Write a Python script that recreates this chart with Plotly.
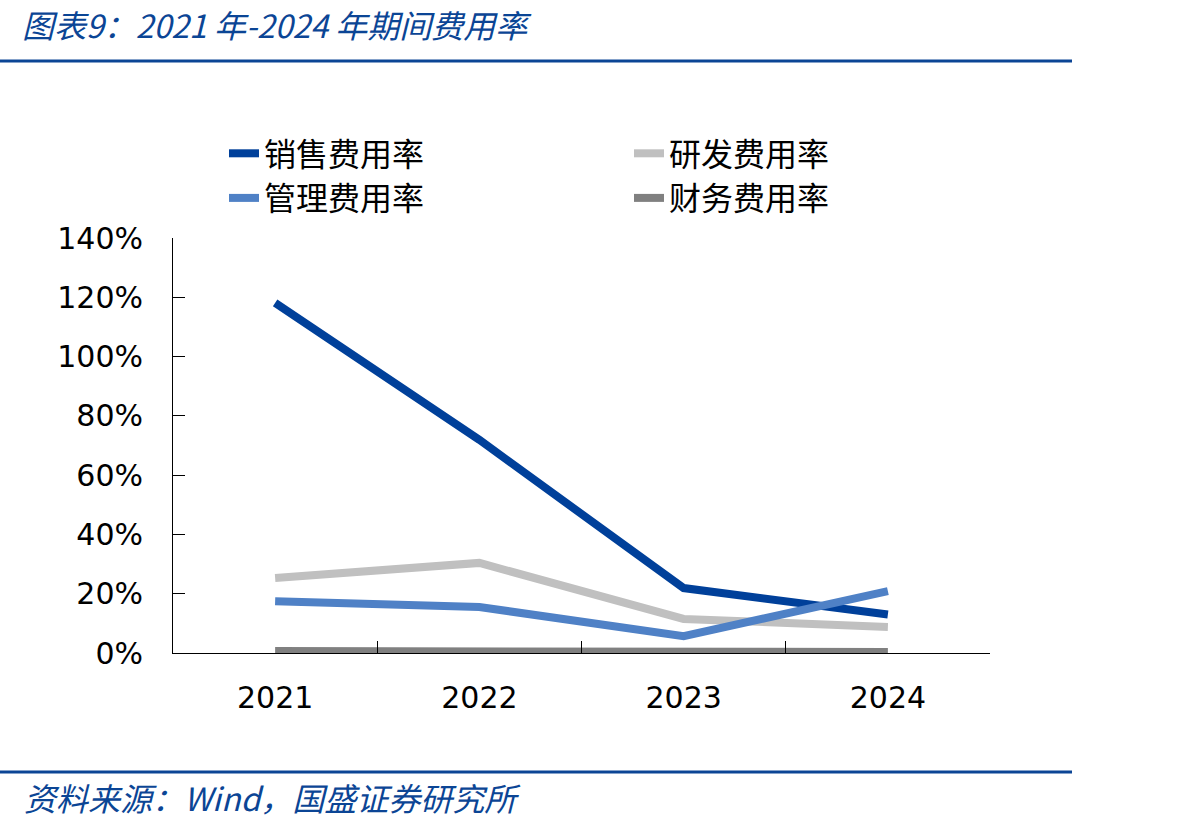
import plotly.graph_objects as go

years = ["2021", "2022", "2023", "2024"]
sales = [1.181, 0.719, 0.219, 0.130]
rnd = [0.253, 0.304, 0.115, 0.088]
admin = [0.175, 0.155, 0.057, 0.209]
fin = [0.007, 0.005, 0.002, 0.003]

names = ["销售费用率", "研发费用率", "管理费用率", "财务费用率"]
colors = ["#00409A", "#C0C0C0", "#4F81C6", "#808080"]
series = [sales, rnd, admin, fin]

W, H = 1192, 829
L, R, T, B = 173, 990, 238, 653
PW, PH = R - L, B - T


def px_x(x):
    return (x - L) / PW


def px_y(y):
    return (B - y) / PH


fig = go.Figure()
for i in range(4):
    fig.add_trace(go.Scatter(
        x=years, y=series[i], name=names[i], mode="lines",
        line=dict(color=colors[i], width=8),
    ))

tickfont = dict(family="DejaVu Sans, Verdana, sans-serif", size=30, color="#000000")
cjk = "Noto Sans CJK SC, sans-serif"
blue = "#0B4595"

fig.update_layout(
    width=W, height=H,
    margin=dict(l=L, r=W - R, t=T, b=H - B, pad=0, autoexpand=False),
    paper_bgcolor="white", plot_bgcolor="white",
    showlegend=True,
    legend=dict(
        orientation="h", x=px_x(224), y=px_y(126), xanchor="left", yanchor="top",
        entrywidth=360, entrywidthmode="pixels",
        font=dict(family=cjk, size=32, color="#000000"),
        tracegroupgap=0, traceorder="normal",
        bgcolor="rgba(0,0,0,0)",
    ),
    xaxis=dict(
        type="category", showline=True, linecolor="#000000", linewidth=1,
        ticks="inside", ticklen=12, tickcolor="#000000", tickson="boundaries",
        showgrid=False, zeroline=False, tickfont=tickfont, ticklabelstandoff=18,
        range=[-0.5, 3.5],
    ),
    yaxis=dict(
        range=[0, 1.4], dtick=0.2, tickformat=".0%", showline=True,
        linecolor="#000000", linewidth=1, ticks="inside", ticklen=12,
        tickcolor="#000000", showgrid=False, zeroline=False, tickfont=tickfont,
        ticklabelstandoff=23,
    ),
)

fig.add_shape(type="rect", xref="paper", yref="paper",
              x0=px_x(0), x1=px_x(1072), y0=px_y(62.5), y1=px_y(59.5),
              fillcolor=blue, line=dict(width=0))
fig.add_shape(type="rect", xref="paper", yref="paper",
              x0=px_x(0), x1=px_x(1072), y0=px_y(773.5), y1=px_y(770.5),
              fillcolor=blue, line=dict(width=0))

fig.add_annotation(
    text="<i>图表9：2021 年-2024 年期间费用率</i>", xref="paper", yref="paper",
    x=px_x(20), y=px_y(24), xanchor="left", yanchor="middle",
    showarrow=False, font=dict(family=cjk, size=32, color=blue),
)
fig.add_annotation(
    text="<i>资料来源：Wind，国盛证券研究所</i>", xref="paper", yref="paper",
    x=px_x(22), y=px_y(797), xanchor="left", yanchor="middle",
    showarrow=False, font=dict(family=cjk, size=32, color=blue),
)

fig.write_html("out.html")
